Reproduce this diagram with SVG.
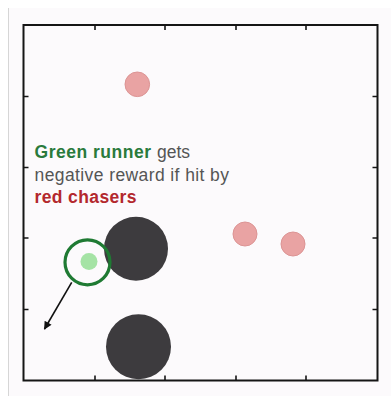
<svg xmlns="http://www.w3.org/2000/svg" width="391" height="396" viewBox="0 0 391 396">
<defs>
<style>
.chaser{fill:#e9a3a3;stroke:#dc9494;stroke-width:1}
.obstacle{fill:#3d3b3e}
.tick{stroke:#151515;stroke-width:1.6}
.txt{font-family:"Liberation Sans",Arial,Helvetica,sans-serif;font-size:17.5px}
.b{font-weight:bold}
</style>
<marker id="ah" viewBox="0 0 10 10" refX="9" refY="5" markerWidth="9" markerHeight="8" markerUnits="userSpaceOnUse" orient="auto"><path d="M0,0 L10,5 L0,10 z" fill="#111"/></marker>
</defs>
<rect x="0" y="0" width="391" height="396" fill="#ffffff"/>
<rect x="8" y="8" width="383" height="388" fill="#fcfafc"/>
<line x1="8.5" y1="8" x2="8.5" y2="396" stroke="#d6d6d6" stroke-width="1"/>
<g id="frame">
<rect x="23.5" y="25" width="354" height="355.5" fill="none" stroke="#151515" stroke-width="2"/>
<path class="tick" d="M95,25v5M165,25v5M236,25v5M306,25v5M95,380.5v-5M165,380.5v-5M236,380.5v-5M306,380.5v-5M23.5,96.5h5M23.5,167.5h5M23.5,238h5M23.5,309.5h5M377.5,96.5h-5M377.5,167.5h-5M377.5,238h-5M377.5,309.5h-5"/>
</g>
<g id="chaser1"><circle class="chaser" cx="137.3" cy="84.3" r="12.3"/></g>
<g id="chaser2"><circle class="chaser" cx="245" cy="234" r="12"/></g>
<g id="chaser3"><circle class="chaser" cx="293" cy="244" r="12"/></g>
<g id="obstacle1"><circle class="obstacle" cx="136" cy="248.7" r="32"/></g>
<g id="obstacle2"><circle class="obstacle" cx="138.5" cy="346.7" r="32.5"/></g>
<g id="runner">
<circle cx="87.5" cy="262.3" r="22.5" fill="none" stroke="#1f7a33" stroke-width="3.2"/>
<circle cx="89" cy="261.5" r="8.5" fill="#a5e3a5"/>
</g>
<g id="connectors">
<line x1="71.7" y1="282.3" x2="44.5" y2="329" stroke="#111" stroke-width="1.6" marker-end="url(#ah)"/>
</g>
<g id="label">
<text class="txt b" x="34.5" y="158.3" fill="#2a7a3c" textLength="116.5">Green runner</text>
<text class="txt" x="157" y="158.3" fill="#555" textLength="33">gets</text>
<text class="txt" x="34.5" y="180.7" fill="#555" textLength="194.5">negative reward if hit by</text>
<text class="txt b" x="34.5" y="202.7" fill="#b3282d" textLength="102">red chasers</text>
</g>
</svg>
